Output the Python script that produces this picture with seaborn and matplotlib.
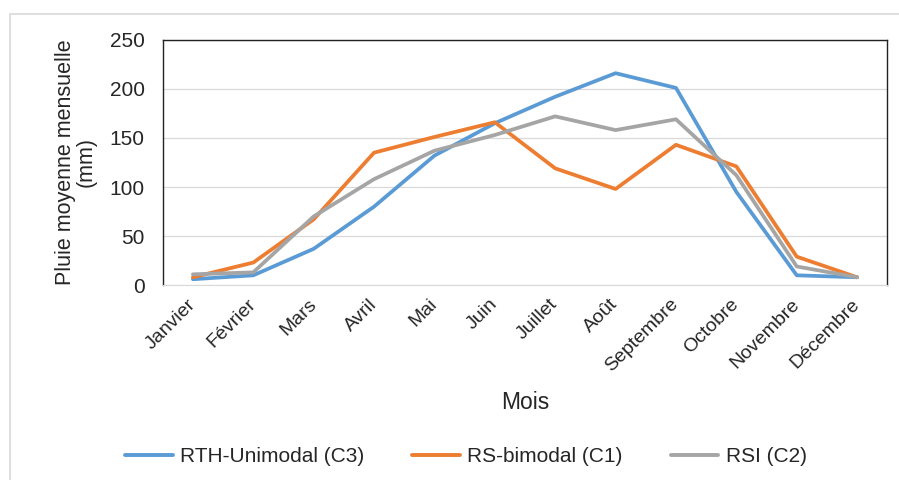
import pandas as pd
import numpy as np
import matplotlib.pyplot as plt
import seaborn as sns
from matplotlib.patches import Rectangle

months = ['Janvier', 'Février', 'Mars', 'Avril', 'Mai', 'Juin', 'Juillet',
          'Août', 'Septembre', 'Octobre', 'Novembre', 'Décembre']
rth_unimodal = [6, 10, 37, 80, 132, 165, 192, 216, 201, 95, 10, 8]
rs_bimodal = [8, 23, 67, 135, 151, 166, 119, 98, 143, 121, 29, 8]
rsi = [11, 13, 70, 108, 137, 153, 172, 158, 169, 112, 19, 8]
series_names = ['RTH-Unimodal (C3)', 'RS-bimodal (C1)', 'RSI (C2)']
colors = ['#5B9BD5', '#ED7D31', '#A5A5A5']

# long format for seaborn
df = pd.DataFrame({
    'Mois': months * 3,
    'Pluie': rth_unimodal + rs_bimodal + rsi,
    'Serie': np.repeat(series_names, len(months)),
})
df['Mois'] = pd.Categorical(df['Mois'], categories=months, ordered=True)
df['x'] = df['Mois'].cat.codes

sns.set_style('white')
plt.rcParams['font.family'] = ['Liberation Sans', 'DejaVu Sans']

fig = plt.figure(figsize=(8.99, 4.8), dpi=100)
ax = fig.add_axes([0.181, 0.406, 0.806, 0.511])

# outer chart border like Excel
fig.patches.append(Rectangle((0.011, -0.01), 1.0, 0.98, transform=fig.transFigure,
                             fill=False, edgecolor='#D9D9D9', linewidth=1.2))

sns.lineplot(data=df, x='x', y='Pluie', hue='Serie', hue_order=series_names,
             palette=colors, linewidth=2.7, sort=False, ax=ax, legend=False)

ax.set_xlim(-0.5, len(months) - 0.5)
ax.set_ylim(0, 250)
ax.set_yticks(range(0, 251, 50))
ax.set_xticks(range(len(months)))
ax.set_xticklabels(months, rotation=45, ha='right', va='center',
                   rotation_mode='anchor', fontsize=14)
ax.tick_params(axis='y', labelsize=15, length=0, pad=13)
ax.tick_params(axis='x', length=0, pad=12)
ax.yaxis.grid(True, color='#D9D9D9', linewidth=0.9)
ax.set_axisbelow(True)

for side in ['left', 'top', 'right']:
    ax.spines[side].set_color('#222222')
    ax.spines[side].set_linewidth(1.0)
ax.spines['bottom'].set_color('#D9D9D9')

ax.set_xlabel('Mois', fontsize=16.5)
ax.xaxis.set_label_coords(0.5, -0.43)
ax.set_ylabel('Pluie moyenne mensuelle\n(mm)', fontsize=15.5, labelpad=9, linespacing=1.0)

handles = [plt.Line2D([], [], color=c, linewidth=2.8) for c in colors]
fig.legend(handles, series_names, loc='center', bbox_to_anchor=(0.518, 0.048),
           ncol=3, frameon=False, fontsize=15, handlelength=2.3,
           handletextpad=0.35, columnspacing=2.3)

fig.savefig('out.png', dpi=100)
